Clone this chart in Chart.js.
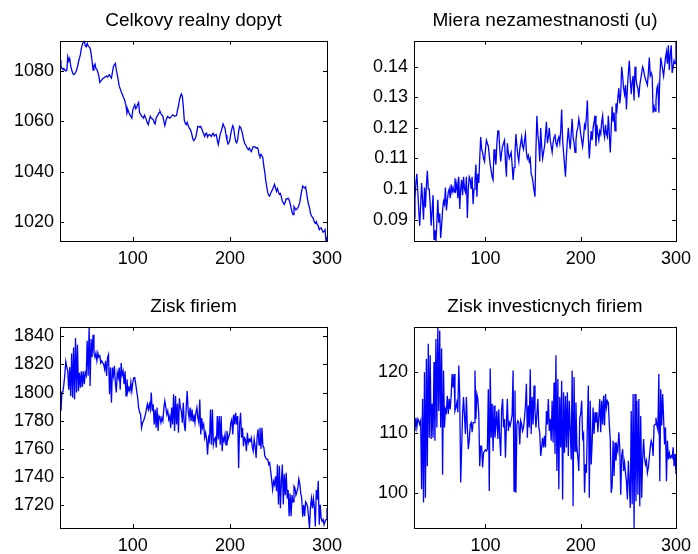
<!DOCTYPE html>
<html>
<head>
<meta charset="utf-8">
<script src="https://cdn.jsdelivr.net/npm/chart.js@4/dist/chart.umd.min.js"></script>
<style>
    html, body { margin: 0; padding: 0; background: #fff; }
    #wrap { position: relative; width: 698px; height: 554px; overflow: hidden; }
    canvas { position: absolute; }
</style>
</head>
<body>
<div id="wrap">
    <canvas id="c1" width="349" height="277" style="left:0;top:0"></canvas>
    <canvas id="c2" width="349" height="277" style="left:349px;top:0"></canvas>
    <canvas id="c3" width="349" height="277" style="left:0;top:277px"></canvas>
    <canvas id="c4" width="349" height="277" style="left:349px;top:277px"></canvas>
</div>
<script>
// Simulation output, one value per period starting at T_START
const T_START = 25;
const xTicks = [100, 200, 300];

// Celkovy realny dopyt
const demandTicks = [1020, 1040, 1060, 1080];
const demandValues = [
    1084.3, 1082, 1081, 1080.5, 1081, 1080.4, 1080, 1080.2, 1085.7, 1084,
    1085, 1082, 1080.5, 1079.2, 1078.6, 1078.8, 1079.5, 1080.2, 1081.7, 1083.5,
    1085, 1086.5, 1089, 1090.5, 1091.6, 1092, 1090, 1089.6, 1091, 1090,
    1089.6, 1089, 1087, 1084, 1080.4, 1082, 1082.8, 1081, 1080.6, 1079.5,
    1078, 1075.5, 1076, 1076.5, 1077, 1077.2, 1077.5, 1077.8, 1078, 1077.6,
    1078.2, 1078.5, 1077.8, 1077.2, 1079.5, 1081.7, 1082.5, 1083, 1080.4, 1078.5,
    1076.4, 1074, 1073, 1071.8, 1071, 1069.9, 1069, 1067.9, 1066, 1063.3,
    1064.5, 1063.5, 1062.6, 1062, 1061.3, 1064.6, 1065.5, 1066.6, 1065, 1065.5,
    1066.8, 1067.5, 1063.3, 1063, 1062, 1061.8, 1061.3, 1062.5, 1061.5, 1060.6,
    1059.5, 1058.7, 1060.5, 1062, 1061.3, 1061, 1060.8, 1059.5, 1059, 1061.3,
    1062, 1062.6, 1063.5, 1064, 1063, 1062.6, 1062, 1060, 1058.3, 1060,
    1061.3, 1062, 1061.5, 1061.3, 1061.6, 1062, 1062.6, 1062.3, 1062, 1062.2,
    1062.3, 1064.5, 1066, 1068.5, 1069.8, 1070.9, 1070, 1066, 1060.5, 1059.3,
    1058.7, 1059.6, 1058.5, 1057.4, 1057, 1056, 1054.5, 1052.8, 1052.5, 1052.9,
    1054, 1056, 1058, 1058, 1057.7, 1058, 1057, 1056, 1055, 1054,
    1055, 1055.3, 1053.8, 1054.5, 1054.8, 1054.5, 1054, 1055, 1055.3, 1054.2,
    1054.6, 1054.8, 1052.5, 1050.8, 1052.8, 1055, 1056, 1057.5, 1059, 1058,
    1057.2, 1054.5, 1052.5, 1051, 1051.5, 1052.8, 1055.3, 1057, 1058.3, 1057,
    1054.2, 1052, 1051.5, 1052.8, 1056, 1058, 1057.6, 1056.5, 1055, 1053,
    1051.5, 1050.8, 1050, 1049.3, 1048.8, 1049.4, 1048.6, 1048, 1049, 1050,
    1050, 1049.8, 1049.4, 1049.6, 1049.2, 1046.8, 1046, 1046.9, 1046.3, 1045.5,
    1042, 1039.6, 1036.3, 1034, 1031.7, 1030.6, 1030.3, 1031.5, 1032.3, 1033,
    1034, 1035, 1033.5, 1032.2, 1033.3, 1032, 1031, 1031.4, 1030, 1028.4,
    1027.6, 1027, 1028, 1029.3, 1029.2, 1029.5, 1028.8, 1027.5, 1025.7, 1024,
    1023, 1026.2, 1025.5, 1024.8, 1025.2, 1025.7, 1026.5, 1027.8, 1030.3, 1032.5,
    1034.3, 1033.8, 1033.5, 1034, 1031.5, 1029, 1027, 1025.7, 1023.5, 1022.5,
    1022, 1021.4, 1020, 1019.6, 1020.2, 1019, 1018.5, 1017, 1017.6, 1017.7,
    1016.8, 1016, 1016.3, 1017, 1012.5, 1014.2
];

// Miera nezamestnanosti (u)
const unempTicks = [0.09, 0.1, 0.11, 0.12, 0.13, 0.14];
const unempValues = [
    0.0905, 0.097, 0.102, 0.105, 0.099, 0.093, 0.088, 0.095, 0.102, 0.096,
    0.090, 0.1005, 0.094, 0.101, 0.106, 0.100, 0.1, 0.095, 0.088, 0.093,
    0.098, 0.0835, 0.0865, 0.083, 0.089, 0.0965, 0.089, 0.092, 0.084, 0.088,
    0.093, 0.096, 0.095, 0.1005, 0.093, 0.096, 0.099, 0.1, 0.097, 0.1015,
    0.099, 0.1005, 0.099, 0.1035, 0.1, 0.102, 0.097, 0.104, 0.0935, 0.1,
    0.103, 0.098, 0.104, 0.1, 0.099, 0.104, 0.0905, 0.1, 0.104, 0.103,
    0.1, 0.104, 0.095, 0.1, 0.103, 0.108, 0.0975, 0.105, 0.102, 0.11,
    0.117, 0.113, 0.112, 0.11, 0.109, 0.113, 0.116, 0.115, 0.114, 0.111,
    0.108, 0.106, 0.104, 0.103, 0.113, 0.11, 0.108, 0.115, 0.119, 0.119,
    0.113, 0.109, 0.112, 0.114, 0.115, 0.116, 0.109, 0.104, 0.115, 0.112,
    0.11, 0.111, 0.112, 0.108, 0.103, 0.107, 0.112, 0.118, 0.114, 0.111,
    0.109, 0.113, 0.115, 0.117, 0.114, 0.113, 0.116, 0.118, 0.112, 0.11,
    0.111, 0.109, 0.11, 0.105, 0.104, 0.102, 0.0995, 0.0975, 0.113, 0.124,
    0.118, 0.115, 0.109, 0.12, 0.114, 0.11, 0.112, 0.114, 0.118, 0.122,
    0.115, 0.117, 0.12, 0.116, 0.114, 0.112, 0.115, 0.117, 0.118, 0.115,
    0.114, 0.116, 0.117, 0.115, 0.119, 0.126, 0.116, 0.112, 0.108, 0.104,
    0.111, 0.116, 0.12, 0.116, 0.113, 0.118, 0.123, 0.117, 0.115, 0.112,
    0.116, 0.119, 0.12, 0.123, 0.121, 0.118, 0.116, 0.114, 0.117, 0.121,
    0.12, 0.124, 0.129, 0.117, 0.11, 0.115, 0.119, 0.116, 0.12, 0.122,
    0.124, 0.114, 0.121, 0.118, 0.116, 0.119, 0.118, 0.122, 0.124, 0.119,
    0.117, 0.121, 0.118, 0.117, 0.124, 0.118, 0.112, 0.12, 0.127, 0.122,
    0.125, 0.119, 0.128, 0.126, 0.13, 0.133, 0.128, 0.131, 0.14, 0.137,
    0.133, 0.131, 0.134, 0.126, 0.133, 0.138, 0.142, 0.136, 0.131, 0.135,
    0.137, 0.129, 0.14, 0.136, 0.134, 0.133, 0.13, 0.134, 0.136, 0.138,
    0.14, 0.139, 0.137, 0.136, 0.135, 0.134, 0.138, 0.143, 0.137, 0.138,
    0.137, 0.125, 0.127, 0.1255, 0.129, 0.133, 0.134, 0.125, 0.136, 0.143,
    0.141, 0.139, 0.137, 0.14, 0.143, 0.145, 0.141, 0.147, 0.139, 0.144,
    0.147, 0.138, 0.14, 0.142, 0.141, 0.1485
];

// Zisk firiem
const profitTicks = [1720, 1740, 1760, 1780, 1800, 1820, 1840];
const profitValues = [
    1801, 1787, 1800, 1800.5, 1806, 1813, 1822, 1818, 1815, 1802,
    1818, 1797.6, 1827.7, 1796.4, 1832, 1795, 1838.6, 1800, 1833.8, 1801,
    1814, 1803.5, 1815, 1804, 1815, 1806, 1814, 1812, 1836.7, 1812,
    1846.6, 1804.7, 1838, 1825, 1841, 1828, 1825, 1828, 1822.5, 1828,
    1825, 1826, 1821, 1822.5, 1821, 1820, 1816.5, 1822.5, 1811.8, 1825,
    1827, 1798.8, 1817.7, 1792.8, 1817.7, 1812, 1819, 1807, 1800, 1814,
    1810.6, 1817.7, 1802, 1821, 1812.5, 1815, 1806, 1815, 1797.6, 1809.4,
    1801, 1803.5, 1801, 1807.3, 1801, 1807.3, 1810.6, 1810.6, 1806, 1801,
    1796.4, 1789.3, 1786, 1784.5, 1775, 1778.6, 1779.8, 1782, 1784.5, 1788,
    1791.7, 1788, 1791.7, 1788, 1800, 1787, 1791.7, 1777.4, 1788, 1775,
    1789.3, 1772.7, 1783.4, 1782, 1778.6, 1782, 1779.8, 1789.3, 1794, 1789.3,
    1784.5, 1787, 1781, 1783.4, 1775, 1789.3, 1777.4, 1798.8, 1772.7, 1797.6,
    1777.4, 1792, 1771.5, 1796, 1789.3, 1786.9, 1778.6, 1792.8, 1777.4, 1772.7,
    1789.3, 1801, 1787, 1782, 1789.3, 1779.8, 1788.1, 1779.8, 1784.5, 1778.6,
    1785.7, 1789.3, 1782, 1778.6, 1795, 1770.3, 1782, 1775, 1777.4, 1768,
    1771.5, 1766.8, 1756, 1768, 1765.6, 1788, 1763, 1788, 1763, 1766.8,
    1768, 1761, 1783.4, 1766.8, 1783.4, 1763, 1783.4, 1758.5, 1768, 1765.6,
    1770.3, 1763, 1772.7, 1766.8, 1769, 1771.5, 1778.6, 1781, 1770.3, 1784.5,
    1777.4, 1785.7, 1777.4, 1783.4, 1746.6, 1777.4, 1785.7, 1768, 1775, 1762,
    1768, 1766.8, 1758.5, 1771.5, 1764.4, 1766.8, 1765.6, 1768, 1762, 1758.5,
    1766.8, 1762, 1753.7, 1768, 1774, 1763, 1775, 1760, 1775, 1762,
    1761, 1755, 1753.7, 1752.6, 1752.6, 1749, 1750.2, 1744.3, 1738.3, 1731.2,
    1737.1, 1734.7, 1740.7, 1730, 1749, 1720.6, 1748, 1718, 1737, 1749,
    1720.6, 1742, 1727.3, 1743.2, 1725, 1731, 1712.3, 1728.5, 1712.3, 1727.3,
    1722.5, 1733.6, 1732.4, 1727.3, 1729.7, 1732.4, 1738.8, 1735.2, 1728.5, 1724.9,
    1712, 1720.2, 1712.3, 1722.6, 1721.4, 1719, 1712.3, 1704, 1719, 1725,
    1718, 1725, 1719, 1705, 1731, 1724, 1737.5, 1706.3, 1720.6, 1711,
    1708.7, 1710, 1706.3, 1708.7, 1710, 1718
];

// Zisk investicnych firiem
const investTicks = [100, 110, 120];
const investValues = [
    112, 110.3, 112.5, 110.9, 112.3, 112, 111.4, 112, 100.7, 115.6,
    98.5, 120, 99.3, 122.2, 104.5, 124.7, 109.2, 122.8, 109, 114.8,
    109.2, 121.7, 108.7, 125.5, 110.9, 127.5, 113.6, 126.9, 110.9, 123.9,
    103.1, 120.3, 110.9, 113.9, 113.4, 116.1, 113.1, 115.6, 113.9, 116.1,
    119.7, 117.5, 119.7, 113.6, 114.2, 115, 113.4, 121.1, 116, 101.8,
    107.3, 113.1, 115.9, 112.8, 109.8, 115.9, 110.9, 107.3, 108.7, 111.4,
    111.7, 110.1, 111.7, 111.7, 120.3, 112.3, 116.4, 115.6, 113.1, 104.5,
    107.8, 107.8, 104.3, 106.7, 107, 107.2, 107, 107.3, 117.2, 100.4,
    120.6, 109.2, 114.8, 107, 114.5, 109.2, 111.2, 113.6, 109, 113.9,
    109, 106.2, 113.9, 115.6, 110.9, 112.3, 105.9, 111.4, 115.6, 110.3,
    111.7, 111.2, 112, 113, 120.3, 100.4, 117, 100.1, 111.4, 112,
    111.7, 108.1, 112, 111.4, 110.3, 110.9, 112.5, 114.5, 118.1, 109.2,
    114.5, 110.9, 120.5, 109.8, 115.9, 111.4, 117.8, 113.6, 110.9, 113.1,
    115.6, 110.9, 110.1, 106.2, 107.6, 109.2, 107.6, 109.5, 107.6, 113.6,
    111.4, 115.6, 110.3, 112.3, 108.7, 115.3, 108.4, 118.3, 106.5, 122.8,
    103.7, 118.9, 100.7, 115.9, 107.6, 118.6, 99, 116.7, 106.7, 116.1,
    107.6, 116.7, 106.2, 115.3, 110.5, 105.6, 120.3, 97.9, 119.2, 107,
    115, 107.6, 105.9, 103.7, 112.5, 113.1, 115.3, 109.2, 109.8, 100.1,
    104.8, 103.4, 111.4, 117.8, 99.3, 115.3, 104.8, 108.4, 114.2, 109.8,
    113.4, 111.7, 113.4, 110.1, 112.5, 115.6, 110.1, 115.3, 111.4, 116.1,
    111.2, 116.4, 114.2, 115.3, 115, 111.4, 109, 100.1, 101.2, 108.7,
    102.9, 108.4, 105.4, 107.8, 107, 110.1, 107.5, 99.8, 106.2, 107.3,
    103.7, 105.1, 103.4, 102, 99, 105.4, 101.8, 97.6, 113.6, 98.2,
    116.4, 94.3, 116.4, 98.7, 115.3, 99.8, 115.6, 97.9, 112.8, 99.3,
    105.9, 109, 105.9, 104.8, 105.4, 103.4, 104.3, 105.9, 107.6, 108.7,
    108.1, 106.2, 111.2, 111.4, 112.5, 111.2, 110.5, 119.7, 102, 117.2,
    111.2, 116.4, 112.5, 108.1, 110.9, 102, 108.7, 105.6, 106.7, 105.9,
    106.2, 105.9, 107.6, 104.5, 106.5, 103.2
];

const FONT = '"Liberation Sans", Arial, Helvetica, sans-serif';
const TICK_LEN = 4;

// MATLAB-like box with inward ticks on all four sides
const boxPlugin = {
    id: 'matlabBox',
    afterDatasetsDraw(chart) {
        const { ctx, chartArea: a, scales } = chart;
        const xs = scales.x, ys = scales.y;
        ctx.save();
        ctx.strokeStyle = '#000';
        ctx.lineWidth = 1;
        ctx.beginPath();
        xs.ticks.forEach(t => {
            const px = Math.round(xs.getPixelForValue(t.value)) + 0.5;
            ctx.moveTo(px, a.bottom);
            ctx.lineTo(px, a.bottom - TICK_LEN);
            ctx.moveTo(px, a.top);
            ctx.lineTo(px, a.top + TICK_LEN);
        });
        ys.ticks.forEach(t => {
            const py = Math.round(ys.getPixelForValue(t.value)) + 0.5;
            ctx.moveTo(a.left, py);
            ctx.lineTo(a.left + TICK_LEN, py);
            ctx.moveTo(a.right, py);
            ctx.lineTo(a.right - TICK_LEN, py);
        });
        ctx.stroke();
        ctx.strokeRect(Math.round(a.left) + 0.5, Math.round(a.top) + 0.5,
            Math.round(a.right) - Math.round(a.left), Math.round(a.bottom) - Math.round(a.top));
        ctx.restore();
    }
};

function makeChart(id, title, values, yTicks, place) {
    const points = values.map((v, i) => ({ x: T_START + i, y: v }));
    const topRow = place.row === 0;
    const leftCol = place.col === 0;

    new Chart(document.getElementById(id), {
        type: 'line',
        data: {
            datasets: [{
                data: points,
                borderColor: '#0000ff',
                borderWidth: 1.3,
                pointRadius: 0,
                tension: 0,
                fill: false
            }]
        },
        options: {
            responsive: false,
            animation: false,
            events: [],
            layout: {
                autoPadding: false,
                padding: { left: 0, top: 0, right: leftCol ? 20 : 15, bottom: 0 }
            },
            plugins: {
                legend: { display: false },
                tooltip: { enabled: false },
                title: {
                    display: true,
                    text: title,
                    fullSize: false,
                    color: '#000',
                    font: { family: FONT, size: 19, weight: 'normal' },
                    padding: { top: topRow ? 9 : 18, bottom: 9 }
                }
            },
            scales: {
                x: {
                    type: 'linear',
                    min: T_START,
                    max: T_START + values.length - 1,
                    grid: { display: false, drawTicks: false },
                    border: { display: false },
                    afterBuildTicks: s => { s.ticks = xTicks.map(v => ({ value: v })); },
                    afterFit: s => { s.height = topRow ? 36 : 26; },
                    ticks: {
                        color: '#000',
                        padding: 7,
                        maxRotation: 0,
                        font: { family: FONT, size: 18 },
                        callback: v => String(v)
                    }
                },
                y: {
                    type: 'linear',
                    min: Math.min(...values),
                    max: Math.max(...values),
                    grid: { display: false, drawTicks: false },
                    border: { display: false },
                    afterBuildTicks: s => { s.ticks = yTicks.map(v => ({ value: v })); },
                    afterFit: s => { s.width = leftCol ? 60 : 65; },
                    ticks: {
                        color: '#000',
                        padding: 6,
                        font: { family: FONT, size: 18 },
                        callback: v => String(v)
                    }
                }
            }
        },
        plugins: [boxPlugin]
    });
}

makeChart('c1', 'Celkovy realny dopyt', demandValues, demandTicks, { row: 0, col: 0 });
makeChart('c2', 'Miera nezamestnanosti (u)', unempValues, unempTicks, { row: 0, col: 1 });
makeChart('c3', 'Zisk firiem', profitValues, profitTicks, { row: 1, col: 0 });
makeChart('c4', 'Zisk investicnych firiem', investValues, investTicks, { row: 1, col: 1 });
</script>
</body>
</html>
